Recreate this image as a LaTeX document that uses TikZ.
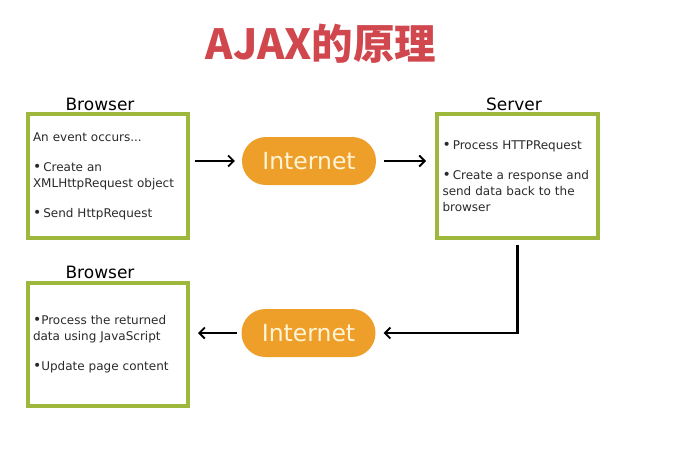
\documentclass[tikz,border=0pt]{standalone}
\usepackage{fontspec}
\setmainfont{DejaVu Sans}
\newfontfamily\cjk{Noto Sans CJK SC}
\usetikzlibrary{arrows.meta}
\definecolor{boxgreen}{HTML}{9DB83C}
\definecolor{netorange}{HTML}{EE9F2A}
\definecolor{netcream}{HTML}{FFF4D6}
\definecolor{titlered}{HTML}{D0474E}
\definecolor{txtgray}{HTML}{2A2A2A}
\newcommand{\bul}{{\fontsize{14}{16}\selectfont•}}
\tikzset{
  box/.style={draw=boxgreen, line width=4pt, fill=white, minimum width=160pt, minimum height=124pt,
    text width=150pt, inner xsep=5pt, inner ysep=6pt, align=left, text=txtgray,
    font=\fontsize{12}{16}\selectfont},
  net/.style={fill=netorange, rounded corners=23.9pt, minimum width=134pt, minimum height=48pt,
    text=netcream, font=\fontsize{23.5}{26}\selectfont, inner sep=0pt},
  lbl/.style={font=\fontsize{17}{18}\selectfont, text=black, inner sep=0pt},
  flow/.style={-{Straight Barb[length=5.5pt,width=11pt,line width=1.8pt]}, line width=2.2pt, black},
}
\begin{document}
\begin{tikzpicture}[x=1pt,y=-1pt]
\useasboundingbox (0,0) rectangle (676,451);
\node[font=\cjk\bfseries\fontsize{41.5}{44}\selectfont, text=titlered, inner sep=0pt] (title) at (321,44) {AJAX的原理};

\node[box] (b1) at (108,176) {An event occurs...\\[14pt]
\bul\,Create an\\XMLHttpRequest object\\[14pt]\bul\,Send HttpRequest};
\node[box, minimum width=161pt] (b2) at (517.5,176) {\bul\,Process HTTPRequest\\[14pt]
\bul\,Create a response and\\send data back to the\\browser\\[8pt]};
\node[box, minimum height=123pt] (b3) at (108,344.5) {\bul Process the returned\\data using JavaScript\\[14pt]\bul Update page content\\[8pt]};

\node[lbl] (l1) at (100,104) {Browser};
\node[lbl] (l2) at (514,104) {Server};
\node[lbl] (l3) at (100,272) {Browser};

\node[net] (i1) at (309,161) {Internet};
\node[net] (i2) at (308.5,333) {Internet};

\draw[flow, shorten <=5pt, shorten >=7pt] (b1.east |- i1) -- (i1.west);
\draw[flow, shorten <=8pt, shorten >=9pt] (i1.east) -- (b2.west |- i1);
\draw[flow, shorten <=5pt, shorten >=8pt] (b2.south) |- (i2.east);
\draw[flow, shorten <=4pt, shorten >=8pt] (i2.west) -- (b3.east |- i2);
\end{tikzpicture}
\end{document}
